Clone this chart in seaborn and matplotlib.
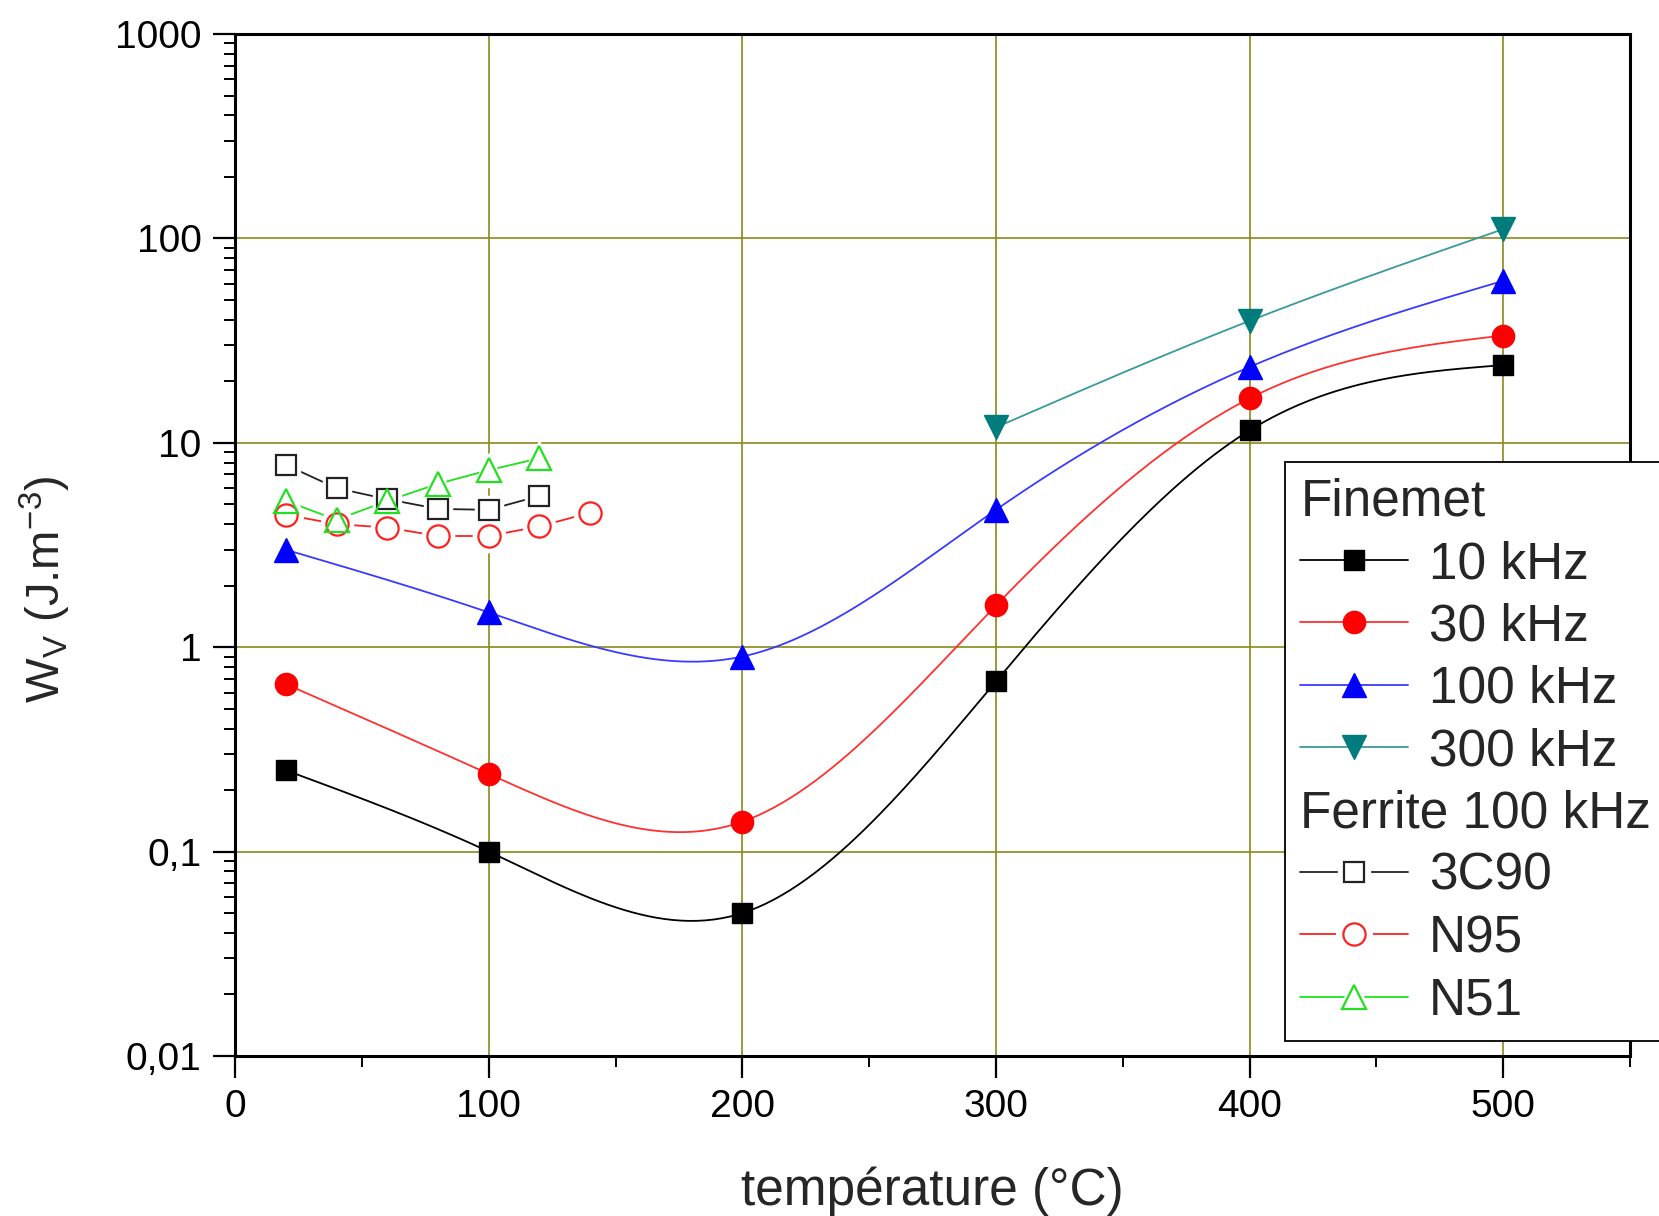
import matplotlib
matplotlib.use("Agg")
import matplotlib.pyplot as plt
import numpy as np
import pandas as pd
import seaborn as sns
from matplotlib.lines import Line2D
from matplotlib.legend_handler import HandlerTuple
from matplotlib.ticker import FixedLocator, FixedFormatter, MultipleLocator, LogLocator, NullFormatter

# Finemet (filled symbols, smooth curves)
temp_fm = [20, 100, 200, 300, 400, 500]
w_10k = [0.25, 0.10, 0.05, 0.68, 11.5, 24.0]
w_30k = [0.66, 0.24, 0.14, 1.6, 16.5, 33.5]
w_100k = [3.0, 1.48, 0.90, 4.7, 23.5, 62.0]
temp_300k = [300, 400, 500]
w_300k = [11.9, 39.5, 111.0]

# Ferrites at 100 kHz (open symbols)
temp_3c90 = [20, 40, 60, 80, 100, 120]
w_3c90 = [7.8, 6.0, 5.3, 4.75, 4.7, 5.5]
temp_n95 = [20, 40, 60, 80, 100, 120, 140]
w_n95 = [4.45, 4.0, 3.85, 3.5, 3.5, 3.9, 4.55]
temp_n51 = [20, 40, 60, 80, 100, 120]
w_n51 = [5.2, 4.2, 5.2, 6.3, 7.35, 8.4]

y_ticks = [0.01, 0.1, 1, 10, 100, 1000]
y_labels = ["0,01", "0,1", "1", "10", "100", "1000"]
x_ticks = [0, 100, 200, 300, 400, 500]


def spline_log(x, y, n=300):
    # natural cubic spline through the points, in log10(y)
    x = np.asarray(x, float)
    ly = np.log10(np.asarray(y, float))
    k = len(x)
    h = np.diff(x)
    A = np.zeros((k, k))
    b = np.zeros(k)
    A[0, 0] = A[-1, -1] = 1
    for i in range(1, k - 1):
        A[i, i - 1] = h[i - 1]
        A[i, i] = 2 * (h[i - 1] + h[i])
        A[i, i + 1] = h[i]
        b[i] = 6 * ((ly[i + 1] - ly[i]) / h[i] - (ly[i] - ly[i - 1]) / h[i - 1])
    M = np.linalg.solve(A, b)
    xs = np.linspace(x[0], x[-1], n)
    idx = np.clip(np.searchsorted(x, xs) - 1, 0, k - 2)
    x0, x1 = x[idx], x[idx + 1]
    hh = x1 - x0
    t0, t1 = x1 - xs, xs - x0
    ys = (M[idx] * t0 ** 3 + M[idx + 1] * t1 ** 3) / (6 * hh) \
        + (ly[idx] / hh - M[idx] * hh / 6) * t0 + (ly[idx + 1] / hh - M[idx + 1] * hh / 6) * t1
    return xs, 10 ** ys


sns.set_style("white")
plt.rcParams['font.family'] = ['Liberation Sans', 'DejaVu Sans']
plt.rcParams['mathtext.fontset'] = 'custom'
plt.rcParams['mathtext.rm'] = 'Liberation Sans'

fig = plt.figure(figsize=(16.59, 12.16), dpi=100)
ax = fig.add_axes([0.1417, 0.1316, 0.9825 - 0.1417, 0.972 - 0.1316])

finemet = [
    ("10 kHz", temp_fm, w_10k, "black", "black", "s", 15),
    ("30 kHz", temp_fm, w_30k, "red", "#ff3030", "o", 16),
    ("100 kHz", temp_fm, w_100k, "blue", "#3a3aff", "^", 17),
    ("300 kHz", temp_300k, w_300k, "#007c7c", "#3a9a9a", "v", 17),
]
ferrite = [
    ("3C90", temp_3c90, w_3c90, "#222222", "s", 14),
    ("N95", temp_n95, w_n95, "#ff2020", "o", 16),
    ("N51", temp_n51, w_n51, "#20e020", "^", 17),
]

handles, labels = [], []
handles.append(Line2D([], [], linestyle="none"))
labels.append("Finemet")
for name, t, w, c, lc, m, ms in finemet:
    xs, ys = spline_log(t, w)
    sns.lineplot(x=xs, y=ys, color=lc, linewidth=1.3, ax=ax, zorder=3, sort=False)
    ax.plot(t, w, linestyle="none", marker=m, markersize=ms, color=c, markeredgecolor=c, zorder=5)
    handles.append(Line2D([], [], color=lc, linewidth=1.3, marker=m, markersize=ms,
                          markerfacecolor=c, markeredgecolor=c))
    labels.append(name)

handles.append(Line2D([], [], linestyle="none"))
labels.append("Ferrite 100 kHz")
for name, t, w, c, m, ms in ferrite:
    df = pd.DataFrame({"T": t, "W": w})
    sns.lineplot(data=df, x="T", y="W", color=c, linewidth=1.3, ax=ax, zorder=2)
    ax.plot(t, w, linestyle="none", marker=m, markersize=ms * 1.45, color="white",
            markeredgecolor="white", zorder=2.5)
    ax.plot(t, w, linestyle="none", marker=m, markersize=ms, markerfacecolor="none",
            markeredgecolor=c, markeredgewidth=1.6, zorder=4)
    h_line = Line2D([], [], color=c, linewidth=1.3)
    h_gap = Line2D([], [], linestyle="none", marker=m, markersize=ms * 1.6,
                   markerfacecolor="white", markeredgecolor="white")
    h_mk = Line2D([], [], linestyle="none", marker=m, markersize=ms, markerfacecolor="none",
                  markeredgecolor=c, markeredgewidth=1.6)
    handles.append((h_line, h_gap, h_mk))
    labels.append(name)

ax.set_yscale("log")
ax.set_xlim(0, 550)
ax.set_ylim(0.01, 1000)

ax.yaxis.set_major_locator(FixedLocator(y_ticks))
ax.yaxis.set_major_formatter(FixedFormatter(y_labels))
ax.yaxis.set_minor_locator(LogLocator(base=10, subs=np.arange(2, 10)))
ax.yaxis.set_minor_formatter(NullFormatter())
ax.xaxis.set_major_locator(FixedLocator(x_ticks))
ax.xaxis.set_minor_locator(MultipleLocator(50))

ax.tick_params(axis="both", which="major", direction="out", length=16, width=1.6,
               labelsize=28, pad=8, color="black", labelcolor="black")
ax.tick_params(axis="both", which="minor", direction="out", length=8, width=1.4, color="black")
ax.tick_params(top=False, right=False, which="both")
ax.tick_params(axis="y", which="both", left=True)
ax.tick_params(axis="x", which="both", bottom=True)

for s in ax.spines.values():
    s.set_color("black")
    s.set_linewidth(2.2)

ax.grid(True, which="major", color="#8a8a1a", linewidth=1.2)
ax.set_axisbelow(True)

ax.set_xlabel("température (°C)", fontsize=37, labelpad=30)
ax.set_ylabel(r"W$_\mathregular{V}$ (J.m$^\mathregular{-3}$)", fontsize=34)
ax.yaxis.set_label_coords(-0.116, 0.457)

leg_fs = 37
leg = fig.legend(handles, labels, loc="upper left", bbox_to_anchor=(0.7746, 0.6198),
                 borderaxespad=0, fontsize=leg_fs, frameon=True, fancybox=False, framealpha=1,
                 edgecolor="black", handlelength=2.1, handletextpad=0.4,
                 labelspacing=0.26, borderpad=0.3, numpoints=1,
                 handler_map={tuple: HandlerTuple(ndivide=1)})
leg.get_frame().set_linewidth(1.3)

# header rows start at the handle column
shift = (2.1 + 0.4) * leg_fs * fig.dpi / 72
for txt in leg.get_texts():
    if txt.get_text() in ("Finemet", "Ferrite 100 kHz"):
        txt.set_x(-shift)

fig.savefig("out.png", dpi=100)
